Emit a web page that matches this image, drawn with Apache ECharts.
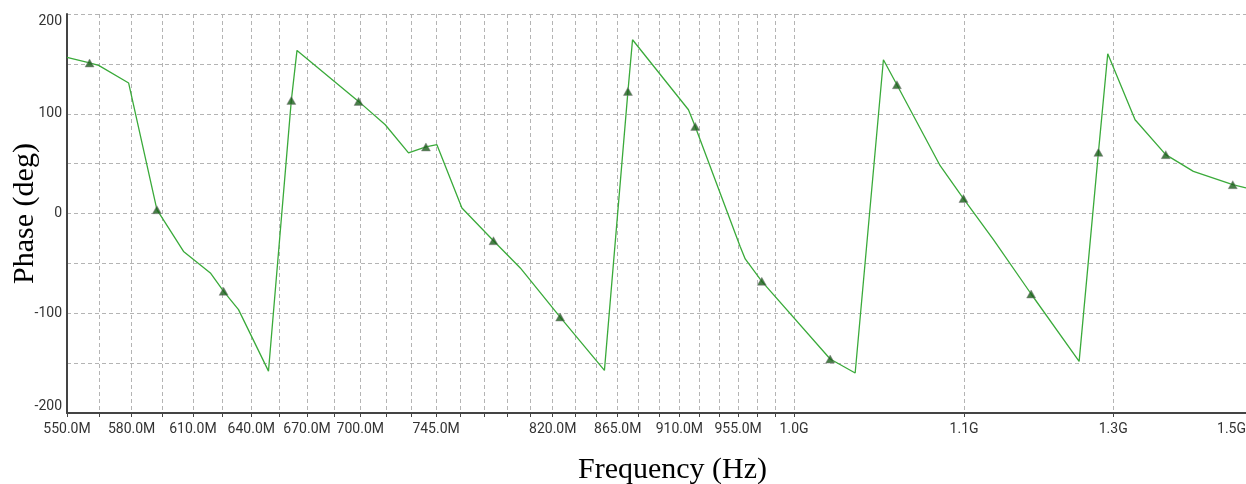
<!DOCTYPE html>
<html>
<head>
<meta charset="utf-8">
<script src="https://cdn.jsdelivr.net/npm/echarts@6/dist/echarts.min.js"></script>
<style>
html,body{margin:0;padding:0;background:#ffffff;}
#chart{width:1246px;height:484px;}
</style>
</head>
<body>
<div id="chart"></div>
<script>
// ---- data (frequency in MHz, phase in degrees) ----
const lineFreqMHz = [550, 560.3, 564.5, 578.6, 592.2, 605.3, 618.8, 625.6, 633.3, 649.1,
  661.4, 664.5, 699.0, 714.5, 728.3, 738.8, 745.5, 761.0, 781.0, 798.4,
  825.0, 855.6, 872.3, 875.6, 916.8, 921.9, 956.6, 960.6, 973.8, 1030.1,
  1051.5, 1076.2, 1088.2, 1127.6, 1149.4, 1178.1, 1215.2, 1264.1, 1284.3, 1294.2,
  1323.6, 1357.4, 1388.6, 1434.3, 1450];
const linePhaseDeg = [156.5, 150.9, 148.5, 130.8, 3.8, -38, -59.6, -78, -96.4, -158,
  113.4, 163.5, 112.4, 89, 60.7, 66.7, 69, 5.5, -27.3, -54.6,
  -103.8, -157.3, 122.4, 174.2, 104, 87.3, -33, -45.6, -68, -145.9,
  -159.9, 154.2, 129.1, 47.9, 15, -26.3, -80.7, -148.3, 61.3, 160.2,
  94, 59, 42.2, 28.9, 25.6];
const markerFreqMHz = [560.3, 592.2, 625.6, 661.4, 699.0, 738.8, 781.0, 825.0, 872.3,
  921.9, 973.8, 1030.1, 1088.2, 1149.4, 1215.2, 1284.3, 1357.4, 1434.3];
const markerPhaseDeg = [150.9, 3.8, -78, 113.4, 112.4, 66.7, -27.3, -103.8, 122.4,
  87.3, -68, -145.9, 129.1, 15, -80.7, 61.3, 59, 28.9];

// ---- axis ticks ----
const gridFreqMHz = [550, 565, 580, 595, 610, 625, 640, 655, 670, 685, 700, 715, 730, 745,
  760, 775, 790, 805, 820, 835, 850, 865, 880, 895, 910, 925, 940, 955, 970, 985, 1000,
  1150, 1300, 1450];
const labelFreqMHz = [550, 580, 610, 640, 670, 700, 745, 820, 865, 910, 955, 1000, 1150, 1300, 1450];
const labelText = ['550.0M', '580.0M', '610.0M', '640.0M', '670.0M', '700.0M', '745.0M', '820.0M',
  '865.0M', '910.0M', '955.0M', '1.0G', '1.1G', '1.3G', '1.5G'];
const yLabelValues = [-200, -100, 0, 100, 200];
const freqMin = 550, freqMax = 1450;
const phaseMin = -200, phaseMax = 200, phaseStep = 50;

const chart = echarts.init(document.getElementById('chart'), null, {renderer: 'canvas'});

const gridLine = {show: true, lineStyle: {color: '#b4b4b4', width: 1, type: [4, 3]}};
const labelFont = {fontFamily: 'Roboto', fontSize: 14, color: '#333'};

chart.setOption({
  animation: false,
  backgroundColor: '#ffffff',
  grid: {left: 67, right: 0, top: 14, bottom: 71, containLabel: false, outerBoundsMode: 'none'},
  xAxis: [
    {
      type: 'log', logBase: 10, min: freqMin, max: freqMax, show: false
    },
    {
      type: 'value', position: 'bottom',
      min: Math.log(freqMin), max: Math.log(freqMax),
      axisLine: {show: true, onZero: false, lineStyle: {color: '#444', width: 2}},
      axisTick: {show: true, length: 4, inside: false,
        customValues: gridFreqMHz.map(f => Math.log(f)),
        lineStyle: {color: '#444', width: 1}},
      axisLabel: Object.assign({
        customValues: labelFreqMHz.map(f => Math.log(f)),
        margin: 9,
        alignMaxLabel: 'right',
        formatter: function (v) {
          for (let i = 0; i < labelFreqMHz.length; i++) {
            if (Math.abs(Math.log(labelFreqMHz[i]) - v) < 1e-6) return labelText[i];
          }
          return '';
        }
      }, labelFont),
      splitLine: gridLine,
      name: 'Frequency (Hz)', nameLocation: 'middle', nameGap: 42,
      nameTextStyle: {fontFamily: 'Liberation Serif', fontSize: 30, color: '#000', padding: [0, 0, 0, 32]}
    }
  ],
  yAxis: {
    type: 'value', min: phaseMin, max: phaseMax, interval: phaseStep,
    axisLine: {show: true, onZero: false, lineStyle: {color: '#444', width: 2}},
    axisTick: {show: false},
    axisLabel: Object.assign({
      margin: 5,
      verticalAlignMinLabel: 'bottom',
      verticalAlignMaxLabel: 'top',
      formatter: v => (yLabelValues.indexOf(v) >= 0 ? String(v) : '')
    }, labelFont),
    splitLine: gridLine,
    name: 'Phase (deg)', nameLocation: 'middle', nameGap: 27, nameRotate: 90,
    nameMoveOverlap: false,
    nameTextStyle: {fontFamily: 'Liberation Serif', fontSize: 30, color: '#000'}
  },
  series: [
    {
      type: 'line', xAxisIndex: 0, yAxisIndex: 0,
      data: lineFreqMHz.map((f, i) => [f, linePhaseDeg[i]]),
      showSymbol: false, symbol: 'none',
      lineStyle: {color: '#3aaa3a', width: 1.3},
      z: 3
    },
    {
      type: 'scatter', xAxisIndex: 0, yAxisIndex: 0,
      data: markerFreqMHz.map((f, i) => [f, markerPhaseDeg[i]]),
      symbol: 'triangle', symbolSize: [9, 8],
      itemStyle: {color: '#1a5e1a', borderColor: '#8a7f8a', borderWidth: 0.6},
      z: 4
    }
  ]
});
</script>
</body>
</html>
